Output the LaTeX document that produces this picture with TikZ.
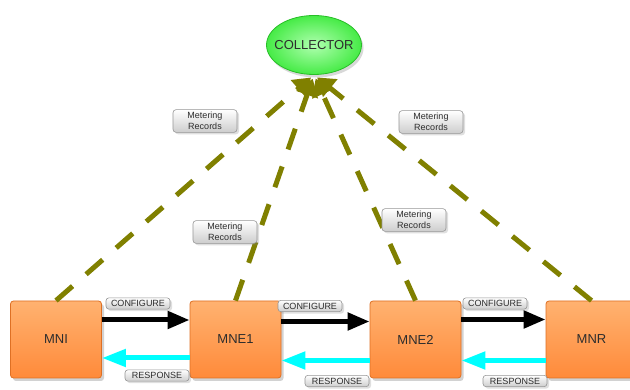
\documentclass[tikz,border=0pt]{standalone}
\usepackage{fontspec}
\setmainfont{Liberation Sans}
\usetikzlibrary{arrows.meta,shadows,shapes.geometric}

\definecolor{linkolive}{RGB}{128,128,0}
\definecolor{boxtop}{RGB}{255,178,112}
\definecolor{boxbot}{RGB}{255,138,58}
\definecolor{boxedge}{RGB}{222,112,36}
\definecolor{tagbot}{RGB}{205,205,205}
\definecolor{tagedge}{RGB}{150,150,150}
\definecolor{inktext}{RGB}{45,45,45}
\definecolor{greeninner}{RGB}{175,255,175}
\definecolor{greenouter}{RGB}{70,235,70}
\definecolor{greenedge}{RGB}{40,190,40}
\definecolor{replycyan}{RGB}{0,255,255}

\begin{document}
\begin{tikzpicture}[x=1pt,y=-1pt,
  unit/.style={draw=boxedge, line width=0.8pt, rounded corners=3pt,
    top color=boxtop, bottom color=boxbot,
    minimum width=91pt, minimum height=77pt,
    font=\fontsize{13}{15}\selectfont, text=inktext,
    drop shadow={opacity=0.35, shadow xshift=2.5pt, shadow yshift=-3pt}},
  hubnode/.style={ellipse, draw=greenedge, line width=0.8pt,
    inner color=greeninner, outer color=greenouter, inner sep=0pt,
    minimum width=95pt, minimum height=59pt,
    drop shadow={opacity=0.3, shadow xshift=2pt, shadow yshift=-3pt}},
  hubtext/.style={font=\fontsize{13}{15}\selectfont, text=inktext, inner sep=0pt},
  tag/.style={draw=tagedge, line width=0.6pt, rounded corners=3pt,
    top color=white, bottom color=tagbot,
    minimum width=64pt, inner sep=2.5pt, align=center,
    font=\fontsize{9}{11}\selectfont, text=inktext,
    drop shadow={opacity=0.25, shadow xshift=2pt, shadow yshift=-2pt}},
  report/.style={draw=linkolive, line width=5pt, dash pattern=on 22pt off 18pt,
    -{Triangle[length=17pt,width=22pt,fill=linkolive]}},
  cfg/.style={draw=black, line width=5pt, -{Triangle[length=22pt,width=17pt]}},
  rsp/.style={draw=replycyan, line width=5pt, -{Triangle[length=24pt,width=17pt]}}
]
\clip (0,0) rectangle (630,390);
\fill[white] (0,0) rectangle (630,390);

% endpoints and collector
\node[hubnode] (collector) at (314,45) {};
\node[hubtext] (collectorname) at (collector.center) {COLLECTOR};
\node[unit] (mni)  at (56,339.5)    {MNI};
\node[unit] (mne1) at (235.5,339.5) {MNE1};
\node[unit] (mne2) at (415.5,339.5) {MNE2};
\node[unit] (mnr)  at (591.5,339.5) {MNR};

% metering reports up to the collector
\draw[report, shorten >=4pt] (mni.north)  -- (collector.south);
\draw[report, shorten >=4pt] (mne1.north) -- (collector.south);
\draw[report, shorten >=4pt] (mne2.north) -- (collector.south);
\draw[report, shorten >=4pt] (mnr.north)  -- (collector.south);

% configure / response chain
\draw[cfg] ([yshift=19.5pt]mni.east)  -- ([yshift=19.5pt]mne1.west);
\draw[cfg] ([yshift=18pt]mne1.east)   -- ([yshift=18pt]mne2.west);
\draw[cfg] ([yshift=20pt]mne2.east)   -- ([yshift=20pt]mnr.west);
\draw[rsp] ([yshift=-18.5pt]mne1.west) -- ([yshift=-18.5pt]mni.east);
\draw[rsp] ([yshift=-21pt]mne2.west)   -- ([yshift=-21pt]mne1.east);
\draw[rsp] ([yshift=-21pt]mnr.west)    -- ([yshift=-21pt]mne2.east);

% labels
\node[tag] (rec1) at (205,121) {Metering\\Records};
\node[tag] (rec2) at (225,232) {Metering\\Records};
\node[tag] (rec3) at (431,122) {Metering\\Records};
\node[tag] (rec4) at (414,220) {Metering\\Records};
\node[tag] (cfg1) at (138,303.5) {CONFIGURE};
\node[tag] (cfg2) at (310,306)   {CONFIGURE};
\node[tag] (cfg3) at (495,303.5) {CONFIGURE};
\node[tag] (rsp1) at (157,375.5) {RESPONSE};
\node[tag] (rsp2) at (337,381)   {RESPONSE};
\node[tag] (rsp3) at (515,381)   {RESPONSE};
\end{tikzpicture}
\end{document}
